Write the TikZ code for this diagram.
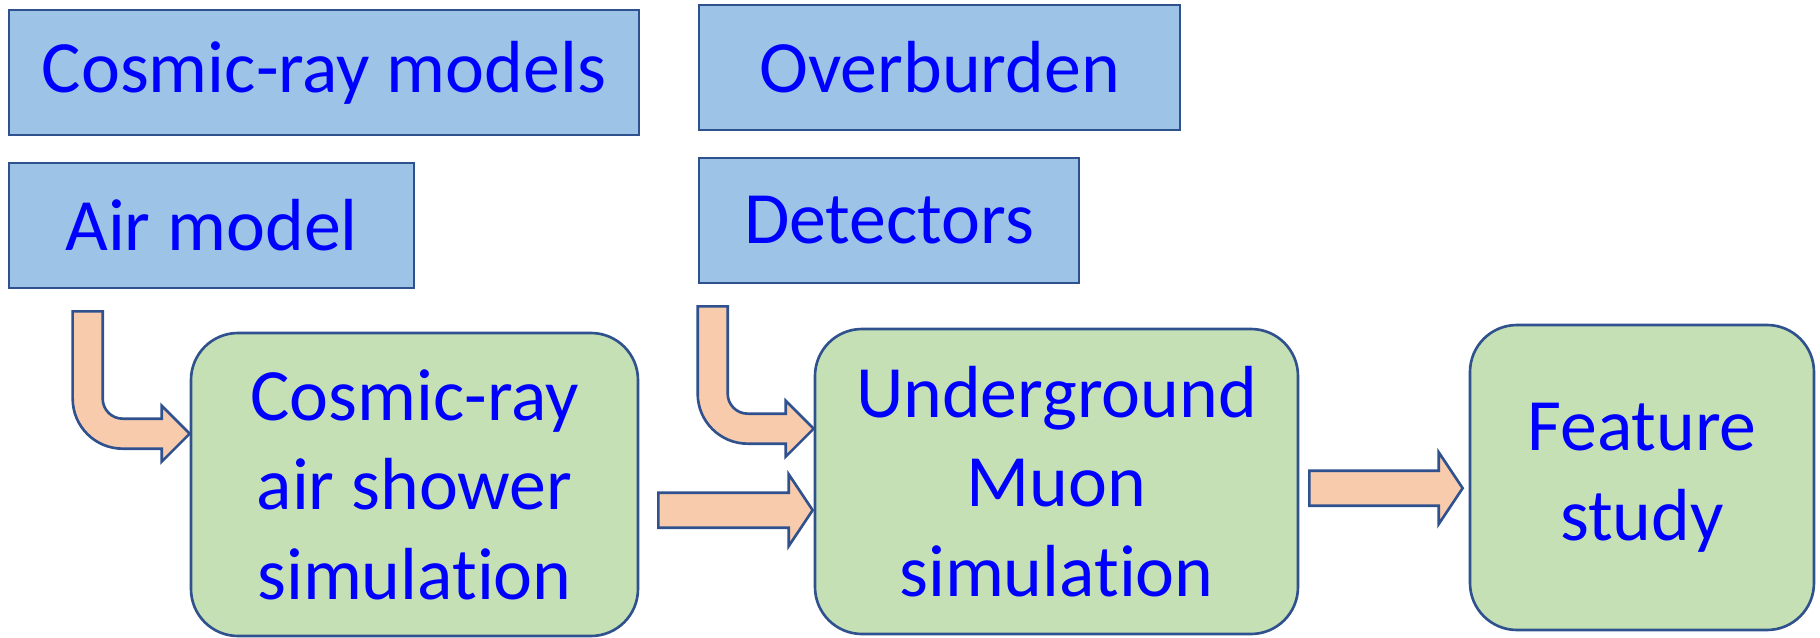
\documentclass[tikz,border=0pt]{standalone}
\usepackage{fontspec}
\setmainfont{Carlito}[Ligatures=NoCommon]
\usepackage{tikz}
\usetikzlibrary{calc}

\definecolor{inputblue}{HTML}{9DC3E6}
\definecolor{stepgreen}{HTML}{C5E0B4}
\definecolor{arrowpeach}{HTML}{F8CBAD}
\definecolor{edgeblue}{HTML}{2F528F}

% straight block arrow: #1 tail, #2 tip
\newcommand{\flowarrow}[2]{%
  \draw[block arrow] let \p1=(#1), \p2=(#2) in
    (\x1,\y2+1.75mm) -- (\x2-2.4mm,\y2+1.75mm) -- (\x2-2.4mm,\y2+3.6mm)
    -- (\x2,\y2) -- (\x2-2.4mm,\y2-3.6mm) -- (\x2-2.4mm,\y2-1.75mm)
    -- (\x1,\y2-1.75mm) -- cycle;}

% bent block arrow: #1 top left of shaft, #2 tip
\newcommand{\bendarrow}[2]{%
  \draw[block arrow] let \p1=(#1), \p2=(#2) in
    (\x1,\y1) -- (\x1+3mm,\y1) -- (\x1+3mm,\y2+3.5mm)
    arc[start angle=180, end angle=270, radius=2mm]
    -- (\x2-2.8mm,\y2+1.5mm) -- (\x2-2.8mm,\y2+2.8mm) -- (\x2,\y2)
    -- (\x2-2.8mm,\y2-2.8mm) -- (\x2-2.8mm,\y2-1.5mm) -- (\x1+5mm,\y2-1.5mm)
    arc[start angle=270, end angle=180, radius=5mm] -- cycle;}

\begin{document}
\begin{tikzpicture}
        % Define styles for the boxes and arrows
        \tikzset{
            input box/.style={draw=edgeblue, line width=0.75pt, fill=inputblue, text=blue,
                minimum height=1.25cm, inner sep=0pt, font=\fontsize{21}{25.5}\selectfont},
            sim box/.style={draw=edgeblue, line width=0.75pt, fill=stepgreen, text=blue,
                rounded corners=0.47cm, align=center, inner sep=0pt,
                font=\fontsize{21}{25.5}\selectfont},
            block arrow/.style={draw=edgeblue, line width=0.75pt, fill=arrowpeach}
        }

        \useasboundingbox (0,0) rectangle (18.20,6.37);

        % Input models
        \node[input box, minimum width=6.30cm] (models) at (3.24, 5.645) {Cosmic-ray models};
        \node[input box, minimum width=4.05cm] (air) at (2.115, 4.115) {Air model};
        \node[input box, minimum width=4.81cm] (overburden) at (9.395, 5.695) {Overburden};
        \node[input box, minimum width=3.80cm] (detectors) at (8.89, 4.165) {Detectors};

        % Simulation steps
        \node[sim box, minimum width=4.47cm, minimum height=3.03cm] (shower) at (4.145, 1.525)
            {Cosmic-ray\\air shower\\simulat\kern0pt ion};
        \node[sim box, minimum width=4.83cm, minimum height=3.05cm] (muon) at (10.565, 1.555)
            {Underground\\Muon\\simulat\kern0pt ion};
        \node[sim box, minimum width=3.44cm, minimum height=3.05cm] (feature) at (16.42, 1.595)
            {Feature\\study};

        % Arrow ends
        \coordinate (airout) at ([xshift=0.65cm, yshift=-0.22cm]air.south west);
        \coordinate (showerin) at ([yshift=-1.02cm]shower.north west);
        \coordinate (detout) at ([yshift=-0.22cm]detectors.south west);
        \coordinate (muontop) at ([yshift=-1.01cm]muon.north west);
        \coordinate (showerout) at ([xshift=0.19cm]shower.east);
        \coordinate (muonin) at ([xshift=-0.01cm, yshift=-1.825cm]muon.north west);
        \coordinate (muonout) at ([xshift=0.10cm]muon.east);
        \coordinate (featurein) at ([xshift=-0.06cm, yshift=-1.645cm]feature.north west);

        % Arrows
        \bendarrow{airout}{showerin}
        \bendarrow{detout}{muontop}
        \flowarrow{showerout}{muonin}
        \flowarrow{muonout}{featurein}

    \end{tikzpicture}
\end{document}
